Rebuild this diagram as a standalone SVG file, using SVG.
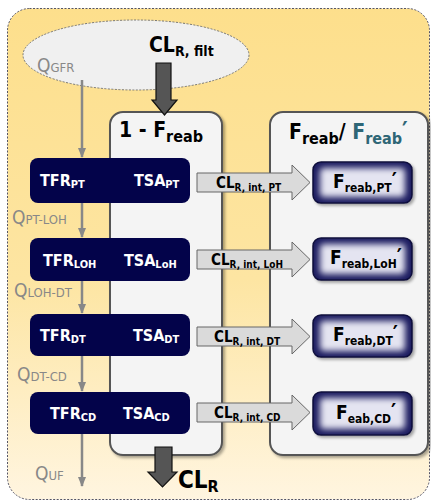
<svg xmlns="http://www.w3.org/2000/svg" width="431" height="502" viewBox="0 0 431 502">
<defs>
<linearGradient id="bg" x1="0" y1="0" x2="0" y2="1">
<stop offset="0" stop-color="#FDDF8C"/>
<stop offset="0.55" stop-color="#FDE5A2"/>
<stop offset="1" stop-color="#FFF5E0"/>
</linearGradient>
<filter id="soft" x="-10%" y="-20%" width="120%" height="140%"><feGaussianBlur stdDeviation="3"/></filter>
<filter id="shadow" x="-10%" y="-10%" width="130%" height="130%"><feGaussianBlur in="SourceAlpha" stdDeviation="1.5"/><feOffset dx="1.5" dy="2" result="b"/><feComponentTransfer><feFuncA type="linear" slope="0.35"/></feComponentTransfer><feMerge><feMergeNode/><feMergeNode in="SourceGraphic"/></feMerge></filter>
<marker id="ga" viewBox="0 0 10 10" refX="9" refY="5" markerWidth="4" markerHeight="4" orient="auto" markerUnits="strokeWidth"><path d="M0,1 L10,5 L0,9 z" fill="#888"/></marker>
</defs>
<style>
text{font-family:"DejaVu Sans",Verdana,sans-serif;font-stretch:condensed}
.b{font-weight:bold}
.w{fill:#fff}
.q{fill:#888}
.panel{fill:#F4F4F4;stroke:#555;stroke-width:2}
.dark{fill:#03034A}
.flow{stroke:#888;stroke-width:2.5;fill:none;marker-end:url(#ga)}
.blk{fill:#DADADA;stroke:#666;stroke-width:1}
.big{fill:#555;stroke:#111;stroke-width:1.2}
.fr{fill:#1C1C60;stroke:#0E0E3A;stroke-width:1.5}
.fi{fill:#E4E4F1}
</style>
<rect x="7.5" y="8.5" width="422" height="491" rx="22" fill="url(#bg)" stroke="#556" stroke-width="1" stroke-dasharray="2,1.5"/>
<g id="filtration">
<ellipse cx="136" cy="55" rx="113" ry="35" fill="#F0F0F0" stroke="#777" stroke-width="1" stroke-dasharray="2,1.5"/>
<text class="q" x="37" y="72" font-size="19">Q<tspan font-size="13">GFR</tspan></text>
<text class="b" x="149" y="52" font-size="21">CL<tspan font-size="14" dy="4">R, filt</tspan></text>
</g>
<g id="panel-left">
<rect class="panel" x="110" y="112" width="112" height="343" rx="13" filter="url(#shadow)"/>
<text class="b" x="119" y="137" font-size="21">1 - F<tspan font-size="16" dy="5">reab</tspan></text>
</g>
<g id="panel-right">
<rect class="panel" x="270" y="112" width="158" height="343" rx="13" filter="url(#shadow)"/>
<text class="b" x="289" y="139" font-size="21">F<tspan font-size="16" dy="5">reab</tspan><tspan dy="-5">/ </tspan><tspan fill="#2E6676">F</tspan><tspan fill="#2E6676" font-size="16" dy="5">reab</tspan><tspan fill="#2E6676" font-size="24" dy="-5">′</tspan></text>
</g>
<g id="connectors">
<line class="flow" x1="82" y1="80" x2="82" y2="157"/>
<line class="flow" x1="82" y1="203" x2="82" y2="237"/>
<line class="flow" x1="82" y1="281" x2="82" y2="313"/>
<line class="flow" x1="82" y1="356" x2="82" y2="391"/>
<line class="flow" x1="82" y1="434" x2="82" y2="486"/>
<path class="big" d="M156,63 H171 V100 H177 L164.5,115 L152,100 H156 Z"/>
<path class="big" d="M155,447 H172 V472 H177 L162.5,487 L148,472 H155 Z"/>
<path class="blk" d="M197,173 H292 V165 L310,182.5 L292,200 V192 H197 Z"/>
<path class="blk" d="M197,250 H292 V242 L310,259.5 L292,277 V269 H197 Z"/>
<path class="blk" d="M197,327 H292 V319 L310,336.5 L292,354 V346 H197 Z"/>
<path class="blk" d="M197,403 H292 V395 L310,412.5 L292,430 V422 H197 Z"/>
</g>
<g id="q-labels">
<text class="q" x="12" y="224" font-size="19">Q<tspan font-size="13">PT-LOH</tspan></text>
<text class="q" x="14" y="297" font-size="19">Q<tspan font-size="13">LOH-DT</tspan></text>
<text class="q" x="17" y="381" font-size="19">Q<tspan font-size="13">DT-CD</tspan></text>
<text class="q" x="35" y="480" font-size="19">Q<tspan font-size="13">UF</tspan></text>
</g>
<g id="seg-pt">
<rect class="dark" x="30" y="158" width="160" height="45" rx="8"/>
<text class="b w" x="40" y="186" font-size="16">TFR<tspan font-size="11" dy="2">PT</tspan></text>
<text class="b w" x="134" y="186" font-size="16">TSA<tspan font-size="11" dy="2">PT</tspan></text>
</g>
<g id="seg-loh">
<rect class="dark" x="30" y="238" width="160" height="43" rx="8"/>
<text class="b w" x="43" y="266" font-size="16">TFR<tspan font-size="11" dy="2">LOH</tspan></text>
<text class="b w" x="124" y="266" font-size="16">TSA<tspan font-size="11" dy="2">LoH</tspan></text>
</g>
<g id="seg-dt">
<rect class="dark" x="30" y="314" width="160" height="42" rx="8"/>
<text class="b w" x="40" y="341" font-size="16">TFR<tspan font-size="11" dy="2">DT</tspan></text>
<text class="b w" x="133" y="341" font-size="16">TSA<tspan font-size="11" dy="2">DT</tspan></text>
</g>
<g id="seg-cd">
<rect class="dark" x="30" y="392" width="160" height="42" rx="8"/>
<text class="b w" x="50" y="419" font-size="16">TFR<tspan font-size="11" dy="2">CD</tspan></text>
<text class="b w" x="123" y="419" font-size="16">TSA<tspan font-size="11" dy="2">CD</tspan></text>
</g>
<g id="cl-labels">
<text class="b" x="216" y="188" font-size="15">CL<tspan font-size="10" dy="3">R, int, PT</tspan></text>
<text class="b" x="211" y="265" font-size="15">CL<tspan font-size="10" dy="3">R, int, LoH</tspan></text>
<text class="b" x="214" y="342" font-size="15">CL<tspan font-size="10" dy="3">R, int, DT</tspan></text>
<text class="b" x="214" y="418" font-size="15">CL<tspan font-size="10" dy="3">R, int, CD</tspan></text>
<text class="b" x="178" y="488" font-size="24">CL<tspan font-size="16" dy="4">R</tspan></text>
</g>
<g id="freab-pt">
<rect class="fr" x="313" y="162" width="99" height="41" rx="8" filter="url(#shadow)"/>
<rect class="fi" x="320" y="168" width="85" height="29" rx="4" filter="url(#soft)"/>
<text class="b" x="333" y="188" font-size="19">F<tspan font-size="12" dy="4">reab,PT</tspan><tspan font-size="22" dy="-4">′</tspan></text>
</g>
<g id="freab-loh">
<rect class="fr" x="313" y="238" width="99" height="42" rx="8" filter="url(#shadow)"/>
<rect class="fi" x="320" y="244" width="85" height="30" rx="4" filter="url(#soft)"/>
<text class="b" x="330" y="264" font-size="19">F<tspan font-size="12" dy="4">reab,LoH</tspan><tspan font-size="22" dy="-4">′</tspan></text>
</g>
<g id="freab-dt">
<rect class="fr" x="313" y="315" width="99" height="42" rx="8" filter="url(#shadow)"/>
<rect class="fi" x="320" y="321" width="85" height="30" rx="4" filter="url(#soft)"/>
<text class="b" x="333" y="341" font-size="19">F<tspan font-size="12" dy="4">reab,DT</tspan><tspan font-size="22" dy="-4">′</tspan></text>
</g>
<g id="freab-cd">
<rect class="fr" x="313" y="392" width="99" height="43" rx="8" filter="url(#shadow)"/>
<rect class="fi" x="320" y="398" width="85" height="31" rx="4" filter="url(#soft)"/>
<text class="b" x="336" y="419" font-size="19">F<tspan font-size="12" dy="4">eab,CD</tspan><tspan font-size="22" dy="-4">′</tspan></text>
</g>
</svg>
